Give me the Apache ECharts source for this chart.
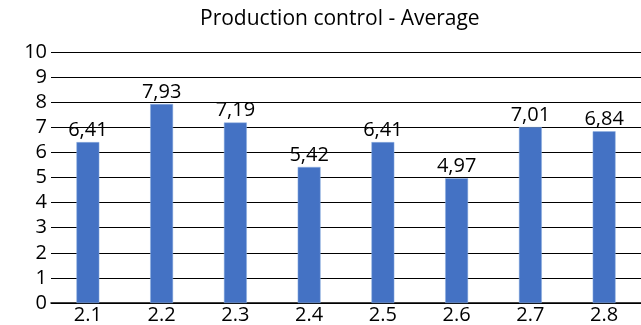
<!DOCTYPE html>
<html>
<head>
<meta charset="utf-8">
<script src="https://cdn.jsdelivr.net/npm/echarts@6/dist/echarts.min.js"></script>
<style>
  html, body { margin: 0; padding: 0; background: #fff; }
  #chart { width: 641px; height: 325px; }
</style>
</head>
<body>
<div id="chart"></div>
<script>
// Average score per production-control item
const categories = ['2.1', '2.2', '2.3', '2.4', '2.5', '2.6', '2.7', '2.8'];
const averages = [6.41, 7.93, 7.19, 5.42, 6.41, 4.97, 7.01, 6.84];
const titleText = 'Production control - Average';

const font = '"Open Sans", sans-serif';
const chart = echarts.init(document.getElementById('chart'), null, { renderer: 'canvas' });
chart.setOption({
  animation: false,
  backgroundColor: '#fff',
  title: {
    text: titleText,
    left: 195,
    top: 4,
    textStyle: { fontFamily: font, fontSize: 21, fontWeight: 'normal', color: '#000' }
  },
  grid: { left: 51, right: 0, top: 52, bottom: 21 },
  xAxis: {
    type: 'category',
    data: categories,
    axisLine: { lineStyle: { color: '#000', width: 1.5 } },
    axisTick: { show: false },
    axisLabel: { fontFamily: font, fontSize: 20, color: '#000', margin: 2 }
  },
  yAxis: {
    type: 'value',
    min: 0,
    max: 10,
    interval: 1,
    axisLine: { show: false },
    axisTick: { show: false },
    splitLine: { lineStyle: { color: '#000', width: 1 } },
    axisLabel: { fontFamily: font, fontSize: 20, color: '#000', margin: 4 }
  },
  series: [{
    type: 'bar',
    data: averages,
    barWidth: '31%',
    itemStyle: { color: '#4472C4', borderColor: '#8fb0e0', borderWidth: 0.5 },
    label: {
      show: true,
      position: 'top',
      distance: 2,
      fontFamily: font,
      fontSize: 20,
      color: '#000',
      formatter: p => p.value.toFixed(2).replace('.', ',')
    }
  }]
});
</script>
</body>
</html>
